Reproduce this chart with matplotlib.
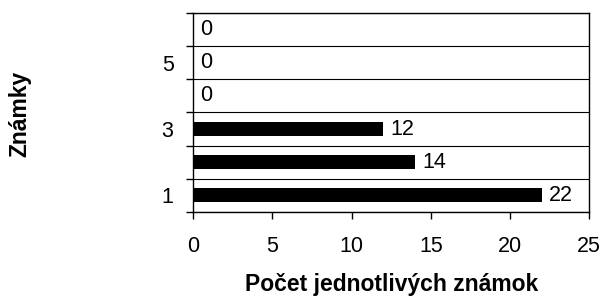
import matplotlib.pyplot as plt
import numpy as np

# Známky a počet jednotlivých známok
znamky = [1, 2, 3, 4, 5, 6]
pocet = [22, 14, 12, 0, 0, 0]
popisky_y = ['1', '', '3', '', '5', '']
x_ticks = [0, 5, 10, 15, 20, 25]

plt.rcParams['font.family'] = ['Liberation Sans', 'DejaVu Sans']
plt.rcParams['font.size'] = 15.5

fig = plt.figure(figsize=(6.05, 2.96), dpi=100)
ax = fig.add_axes([0.319, 0.284, 0.655, 0.672])

y = np.arange(len(znamky))
ax.barh(y, pocet, height=0.42, color='black', zorder=3)

# hodnoty za stĺpcami
for yi, v in zip(y, pocet):
    ax.text(v + 0.45, yi, str(v), va='center', ha='left', fontsize=15.5)

ax.set_xlim(0, 25)
ax.set_ylim(-0.5, len(znamky) - 0.5)
ax.set_xticks(x_ticks)

# hranice kategórií - hlavné značky a mriežka
ax.set_yticks(np.arange(len(znamky) + 1) - 0.5)
ax.set_yticklabels([])
ax.set_yticks(y, minor=True)
ax.set_yticklabels(popisky_y, minor=True)
ax.tick_params(axis='y', which='minor', length=0, pad=14)
ax.tick_params(axis='y', which='major', length=5, width=1, direction='out')
ax.tick_params(axis='x', length=5, width=1, direction='out', pad=12)
ax.grid(True, axis='y', which='major', color='black', linewidth=0.8, zorder=1)

for s in ax.spines.values():
    s.set_linewidth(1)
    s.set_color('black')

ax.set_xlabel('Počet jednotlivých známok', fontweight='bold', fontsize=16.5, labelpad=12)
fig.text(0.033, 0.615, 'Známky', rotation=90, fontweight='bold', fontsize=16.5,
         ha='center', va='center')

fig.savefig('out.png', dpi=100)
